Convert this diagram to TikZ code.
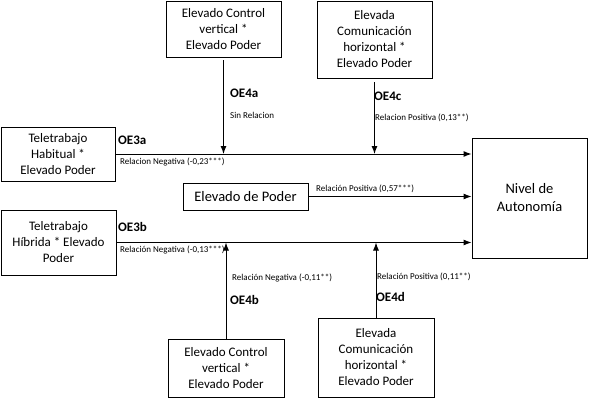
\documentclass[tikz,border=0pt]{standalone}
\usepackage{fontspec}
\setmainfont{Carlito}
\usetikzlibrary{arrows.meta,calc}
\begin{document}
\begin{tikzpicture}[x=1pt,y=-1pt,
  box/.style={draw,line width=0.9pt,inner sep=0pt,align=center,font=\fontsize{13}{16}\selectfont},
  arr/.style={line width=1pt,-{Latex[length=8pt,width=6pt]}},
  oe/.style={font=\fontsize{13}{15}\selectfont\bfseries,anchor=west,inner sep=0pt},
  lbl/.style={font=\fontsize{9}{11}\selectfont,anchor=west,inner sep=0pt}]
\useasboundingbox (0,0) rectangle (590,400);
\node[box,minimum width=115,minimum height=56] (tl) at (223.5,29) {Elevado Control\\vertical *\\Elevado Poder};
\node[box,minimum width=115,minimum height=77] (tr) at (374.5,39.5) {Elevada\\Comunicación\\horizontal *\\Elevado Poder};
\node[box,minimum width=114,minimum height=54] (l1) at (58,154) {Teletrabajo\\Habitual *\\Elevado Poder};
\node[box,minimum width=115,minimum height=65] (l2) at (58.5,242.5) {Teletrabajo\\Híbrida * Elevado\\Poder};
\node[box,minimum width=125,minimum height=27,font=\fontsize{14.5}{17}\selectfont] (ep) at (245.5,196.5) {Elevado de Poder};
\node[box,minimum width=115,minimum height=120,font=\fontsize{14.5}{18}\selectfont] (na) at (529.5,198) {Nivel de\\Autonomía};
\node[box,minimum width=116,minimum height=58] (bl) at (226,368) {Elevado Control\\vertical *\\Elevado Poder};
\node[box,minimum width=116,minimum height=79] (br) at (376,357.5) {Elevada\\Comunicación\\horizontal *\\Elevado Poder};
% horizontal connectors
\draw[arr] (l1.east) -- (l1.east -| na.west);
\draw[arr] (ep.east) -- (ep.east -| na.west);
\draw[arr] (l2.east) -- (l2.east -| na.west);
% labels
\node[oe] (oe3a) at (118,140) {OE3a};
\node[lbl] (r3a) at (120,162) {Relacion Negativa (-0,23***)};
\node[oe] (oe3b) at (118,227) {OE3b};
\node[lbl] (r3b) at (120,250) {Relación Negativa (-0,13***)};
\node[lbl] (rep) at (316,189) {Relación Positiva (0,57***)};
\node[oe] (oe4a) at (230,93) {OE4a};
\node[lbl] (r4a) at (230,115) {Sin Relacion};
\node[oe] (oe4c) at (374,96) {OE4c};
\node[lbl] (r4c) at (375,118) {Relacion Positiva (0,13**)};
\node[lbl] (r4b) at (232,278) {Relación Negativa (-0,11**)};
\node[oe] (oe4b) at (230,300) {OE4b};
\node[lbl] (r4d) at (377,277) {Relación Positiva (0,11**)};
\node[oe] (oe4d) at (376,297) {OE4d};
% vertical connectors
\draw[arr,shorten <=3pt] (tl.south) -- (tl.south |- l1.east);
\draw[arr,shorten <=4pt] (tr.south) -- (tr.south |- l1.east);
\draw[arr] (bl.north) -- (bl.north |- l2.east);
\draw[arr] (br.north) -- (br.north |- l2.east);
\end{tikzpicture}
\end{document}
